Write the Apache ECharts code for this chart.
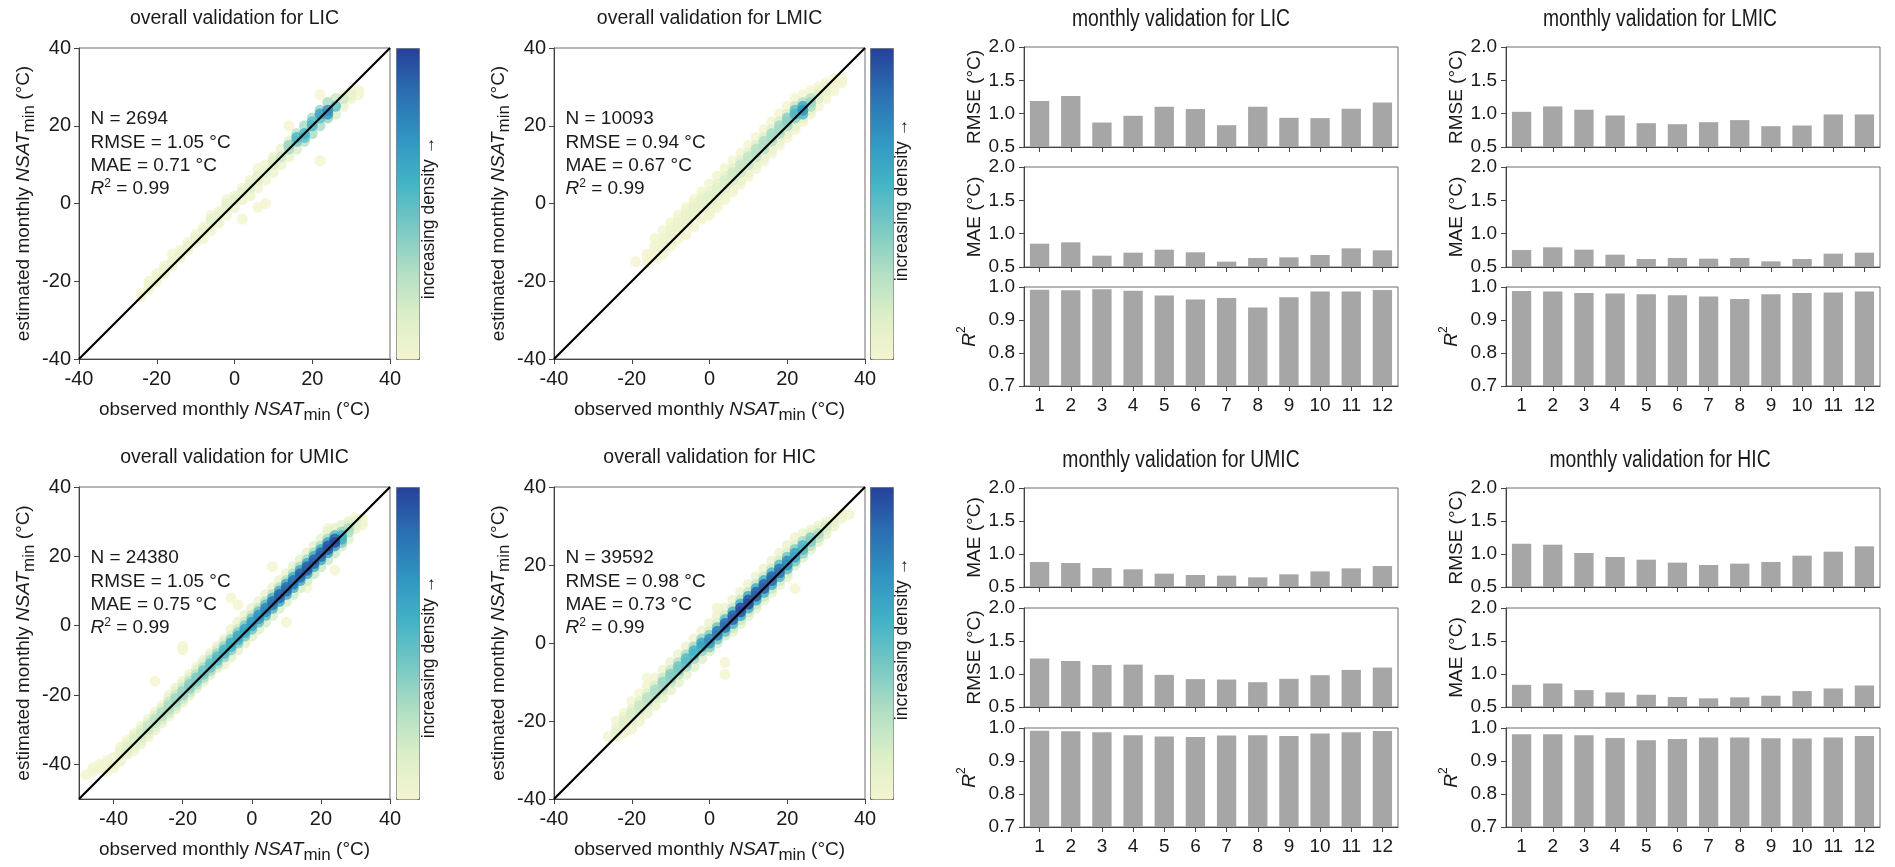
<!DOCTYPE html>
<html>
<head>
<meta charset="utf-8">
<script src="https://cdn.jsdelivr.net/npm/echarts@6/dist/echarts.min.js"></script>
<style>
  html, body { margin: 0; padding: 0; background: #fff; }
  #chart { width: 1895px; height: 867px; }
</style>
</head>
<body>
<div id="chart"></div>
<script>
// ---------- data ----------
const groups = ['LIC', 'LMIC', 'UMIC', 'HIC'];
const statN = [2694, 10093, 24380, 39592];
const statRMSE = ['1.05', '0.94', '1.05', '0.98'];
const statMAE = ['0.71', '0.67', '0.75', '0.73'];
const statR2 = ['0.99', '0.99', '0.99', '0.99'];
const axisRanges = [[-40, 40], [-40, 40], [-50, 40], [-40, 40]];
const tempTicks = [-40, -20, 0, 20, 40];

// point clouds: [observed, estimated, density, estimated, density, ...] per observed column
const licCloud = [
  [-24, -24, 0, -23, 0.02],
  [-22, -22, 0, -20, 0.02, -21, 0.05],
  [-20, -18, 0, -20, 0.03, -19, 0.05],
  [-18, -16, 0, -18, 0.03, -17, 0.06],
  [-16, -13, 0, -16, 0.02, -15, 0.06],
  [-14, -12, 0, -14, 0.03, -13, 0.07],
  [-12, -10, 0, -12, 0.03, -11, 0.08],
  [-10, -8, 0, -10, 0.02, -9, 0.08],
  [-8, -6, 0, -9, 0.02, -7, 0.08],
  [-6, -3, 0, -7, 0.02, -5, 0.06, -4, 0.1],
  [-4, -2, 0.02, -5, 0.03, -3, 0.1],
  [-2, 1, 0, -3, 0.02, -1, 0.1, 0, 0.08],
  [0, 2, 0.02, -1, 0.03, 1, 0.12],
  [2, 4, 0, -4, 0, 1, 0.05, 3, 0.12],
  [4, 6, 0, 2, 0.03, 4, 0.12, 5, 0.1],
  [6, 9, 0, 4, 0.02, 6, 0.1, 7, 0.12, -1, 0],
  [8, 10, 0.02, 6, 0.02, 8, 0.1, 0, 0],
  [10, 12, 0.03, 8, 0.03, 10, 0.15, 11, 0.12],
  [12, 14, 0.05, 10, 0.05, 12, 0.2],
  [14, 20, 0, 16, 0.1, 12, 0.05, 14, 0.3, 15, 0.35],
  [16, 18, 0.25, 14, 0.15, 16, 0.45, 17, 0.55],
  [18, 20, 0.3, 16, 0.25, 18, 0.58, 17, 0.5],
  [20, 22, 0.3, 18, 0.3, 20, 0.55, 21, 0.5],
  [22, 28, 0, 11, 0, 24, 0.35, 20, 0.3, 22, 0.5, 23, 0.65],
  [24, 26, 0.3, 22, 0.35, 24, 0.75, 23, 0.7],
  [26, 27, 0.2, 23, 0.15, 25, 0.5],
  [28, 28, 0.05, 25, 0.05, 27, 0.2],
  [30, 29, 0, 27, 0.02, 28, 0.08],
  [32, 29, 0, 28, 0]
];
const lmicCloud = [
  [-19, -15, 0],
  [-16, -15, 0, -13, 0, -14, 0],
  [-14, -9, 0, -14, 0, -12, 0.02, -11, 0.02],
  [-12, -7, 0, -13, 0, -10, 0.03, -9, 0.03, -11, 0.01],
  [-10, -5, 0, -11, 0, -8, 0.04, -7, 0.04, -9, 0.02, -6, 0.01],
  [-8, -3, 0, -9, 0, -6, 0.05, -5, 0.05, -7, 0.03, -4, 0.01],
  [-6, -1, 0, -8, 0, -4, 0.06, -3, 0.06, -5, 0.04, -2, 0.02],
  [-4, 1, 0, -6, 0, -2, 0.07, -1, 0.07, -3, 0.05, 0, 0.02],
  [-2, 3, 0, -4, 0, 0, 0.08, 1, 0.08, -1, 0.06, 2, 0.03, -3, 0.01],
  [0, 5, 0, -3, 0, 1, 0.1, 2, 0.1, 0, 0.08, 3, 0.04, -2, 0.02],
  [2, 7, 0, -1, 0, 3, 0.12, 4, 0.12, 2, 0.1, 5, 0.05, 0, 0.02],
  [4, 9, 0, 1, 0, 5, 0.15, 6, 0.15, 4, 0.12, 7, 0.06, 2, 0.03],
  [6, 11, 0, 3, 0, 7, 0.18, 8, 0.18, 6, 0.15, 9, 0.08, 4, 0.03],
  [8, 13, 0, 5, 0, 9, 0.2, 10, 0.2, 8, 0.18, 11, 0.1, 6, 0.04],
  [10, 15, 0, 7, 0, 11, 0.22, 12, 0.22, 10, 0.2, 13, 0.1, 8, 0.05],
  [12, 17, 0, 9, 0, 13, 0.25, 14, 0.25, 12, 0.22, 15, 0.12, 10, 0.05],
  [14, 19, 0, 11, 0, 15, 0.28, 16, 0.28, 14, 0.25, 17, 0.12, 12, 0.05],
  [16, 21, 0, 13, 0, 17, 0.3, 18, 0.3, 16, 0.25, 19, 0.12, 14, 0.05],
  [18, 23, 0, 15, 0, 19, 0.32, 20, 0.32, 18, 0.28, 21, 0.15, 16, 0.06],
  [20, 25, 0, 17, 0, 21, 0.38, 22, 0.38, 20, 0.3, 23, 0.15, 18, 0.06],
  [22, 27, 0, 19, 0, 23, 0.55, 24, 0.5, 22, 0.4, 25, 0.2, 20, 0.08],
  [24, 28, 0, 21, 0, 24, 0.72, 25, 0.62, 23, 0.55, 26, 0.25, 22, 0.1],
  [26, 29, 0, 23, 0, 26, 0.35, 27, 0.25, 25, 0.3, 24, 0.08],
  [28, 30, 0, 25, 0, 28, 0.12, 27, 0.12, 29, 0.05],
  [30, 31, 0, 27, 0, 29, 0.05, 30, 0.03],
  [32, 32, 0, 29, 0, 31, 0],
  [34, 32, 0, 31, 0]
];
const umicCloud = [
  [-48, -43, 0],
  [-46, -41, 0, -42, 0.02],
  [-44, -41, 0.02, -40, 0],
  [-42, -41, 0.03, -39, 0.02, -42, 0],
  [-40, -40, 0.05, -38, 0.03, -41, 0.02],
  [-38, -35, 0, -37, 0.08, -39, 0.05, -36, 0.05],
  [-36, -33, 0, -36, 0.1, -35, 0.12, -37, 0.04, -34, 0.06],
  [-34, -31, 0, -36, 0, -34, 0.12, -33, 0.15, -35, 0.06, -32, 0.08],
  [-32, -29, 0, -34, 0.03, -32, 0.15, -31, 0.18, -33, 0.08, -30, 0.1],
  [-30, -27, 0, -32, 0.03, -30, 0.2, -29, 0.22, -31, 0.1, -28, 0.12],
  [-28, -25, 0.02, -16, 0, -30, 0.05, -28, 0.22, -27, 0.25, -29, 0.12, -26, 0.12],
  [-26, -23, 0.02, -28, 0.05, -26, 0.25, -25, 0.28, -27, 0.15, -24, 0.15],
  [-24, -20, 0.02, -26, 0.05, -24, 0.28, -23, 0.3, -25, 0.18, -22, 0.2, -21, 0.08],
  [-22, -18, 0.03, -24, 0.08, -22, 0.3, -21, 0.33, -23, 0.2, -20, 0.2, -19, 0.1],
  [-20, -16, 0.03, -7, 0, -6, 0, -22, 0.08, -20, 0.35, -19, 0.35, -21, 0.2, -18, 0.22, -17, 0.1],
  [-18, -14, 0.03, -20, 0.1, -18, 0.38, -17, 0.4, -19, 0.22, -16, 0.25, -15, 0.12],
  [-16, -12, 0.03, -18, 0.1, -16, 0.4, -15, 0.42, -17, 0.25, -14, 0.25, -13, 0.12],
  [-14, -10, 0.05, -16, 0.1, -14, 0.45, -13, 0.45, -15, 0.28, -12, 0.28, -11, 0.12],
  [-12, -8, 0.05, -14, 0.12, -12, 0.48, -11, 0.5, -13, 0.3, -10, 0.3, -9, 0.15],
  [-10, -6, 0.05, -12, 0.12, -10, 0.5, -9, 0.52, -11, 0.32, -8, 0.32, -7, 0.15],
  [-8, -4, 0.05, -11, 0.05, -8, 0.55, -7, 0.55, -9, 0.35, -6, 0.35, -5, 0.15],
  [-6, -1, 0.03, 8, 0, -9, 0.08, -6, 0.58, -5, 0.6, -7, 0.38, -4, 0.38, -3, 0.15],
  [-4, 1, 0.03, 6, 0, -7, 0.08, -4, 0.6, -3, 0.62, -5, 0.4, -2, 0.4, -1, 0.18],
  [-2, 3, 0.05, -5, 0.1, -2, 0.62, -1, 0.65, -3, 0.42, 0, 0.42, 1, 0.2],
  [0, 5, 0.05, -3, 0.12, 0, 0.65, 1, 0.68, -1, 0.45, 2, 0.45, 3, 0.22],
  [2, 7, 0.05, -1, 0.12, 2, 0.7, 3, 0.72, 1, 0.48, 4, 0.48, 5, 0.22],
  [4, 9, 0.05, 1, 0.15, 4, 0.75, 5, 0.78, 3, 0.5, 6, 0.5, 7, 0.25],
  [6, 11, 0.05, 17, 0, 3, 0.15, 6, 0.82, 7, 0.85, 5, 0.55, 8, 0.55, 9, 0.25],
  [8, 13, 0.05, 5, 0.15, 8, 0.88, 9, 0.9, 7, 0.6, 10, 0.6, 11, 0.28],
  [10, 15, 0.05, 1, 0, 7, 0.15, 10, 0.88, 11, 0.88, 9, 0.6, 12, 0.6, 13, 0.28],
  [12, 17, 0.08, 9, 0.18, 12, 0.85, 13, 0.85, 11, 0.58, 14, 0.58, 15, 0.28],
  [14, 19, 0.08, 11, 0.15, 14, 0.88, 15, 0.9, 13, 0.6, 16, 0.6, 17, 0.3],
  [16, 21, 0.08, 11, 0, 13, 0.18, 16, 0.92, 17, 0.92, 15, 0.62, 18, 0.6, 19, 0.3],
  [18, 23, 0.08, 15, 0.2, 18, 0.9, 19, 0.9, 17, 0.6, 20, 0.6, 21, 0.3],
  [20, 25, 0.08, 17, 0.2, 20, 0.88, 21, 0.9, 19, 0.6, 22, 0.6, 23, 0.3],
  [22, 27, 0.08, 28, 0, 19, 0.2, 22, 0.92, 23, 0.95, 21, 0.62, 24, 0.62, 25, 0.3],
  [24, 28, 0.1, 16, 0, 21, 0.2, 24, 0.98, 25, 0.9, 23, 0.65, 26, 0.5],
  [26, 29, 0.08, 23, 0.15, 25, 0.6, 26, 0.55, 27, 0.35, 24, 0.4],
  [28, 30, 0.05, 25, 0.08, 28, 0.3, 27, 0.28, 29, 0.15],
  [30, 31, 0.03, 28, 0.05, 30, 0.12, 29, 0.1],
  [32, 31, 0, 30, 0.02, 29, 0]
];
const hicCloud = [
  [-26, -24, 0],
  [-24, -20, 0, -24, 0.02, -22, 0.06, -23, 0.08],
  [-22, -18, 0, -23, 0.03, -21, 0.1, -20, 0.12, -19, 0.05],
  [-20, -15, 0, -22, 0.03, -19, 0.14, -18, 0.16, -20, 0.08, -17, 0.08],
  [-18, -13, 0, -20, 0.05, -17, 0.18, -16, 0.2, -18, 0.1, -15, 0.1],
  [-16, -9, 0, -11, 0.03, -18, 0.05, -15, 0.22, -14, 0.25, -16, 0.12, -13, 0.12],
  [-14, -9, 0.03, -16, 0.06, -13, 0.28, -12, 0.3, -14, 0.15, -11, 0.15],
  [-12, -7, 0.03, -14, 0.08, -11, 0.32, -10, 0.35, -12, 0.2, -9, 0.2],
  [-10, -5, 0.04, -12, 0.08, -9, 0.38, -8, 0.4, -10, 0.22, -7, 0.22],
  [-8, -3, 0.04, -10, 0.1, -7, 0.42, -6, 0.45, -8, 0.25, -5, 0.25],
  [-6, -1, 0.05, -8, 0.1, -5, 0.5, -4, 0.52, -6, 0.3, -3, 0.3],
  [-4, 1, 0.05, -6, 0.12, -3, 0.55, -2, 0.58, -4, 0.32, -1, 0.32],
  [-2, 3, 0.05, -4, 0.12, -1, 0.62, 0, 0.65, -2, 0.35, 1, 0.35],
  [0, 5, 0.05, -2, 0.15, 0, 0.7, 1, 0.75, -1, 0.4, 2, 0.4, 3, 0.15],
  [2, 7, 0.05, 9, 0, 0, 0.15, 2, 0.78, 3, 0.82, 1, 0.45, 4, 0.45, 5, 0.15],
  [4, 9, 0.05, -5, 0, -8, 0, 2, 0.18, 4, 0.85, 5, 0.88, 3, 0.5, 6, 0.5, 7, 0.18],
  [6, 11, 0.05, 4, 0.2, 6, 0.9, 7, 0.92, 5, 0.55, 8, 0.55, 9, 0.2, 3, 0.08],
  [8, 13, 0.05, 6, 0.2, 8, 0.95, 9, 0.98, 7, 0.58, 10, 0.58, 11, 0.22, 5, 0.08],
  [10, 15, 0.05, 8, 0.2, 10, 0.98, 11, 0.95, 9, 0.6, 12, 0.6, 13, 0.22, 7, 0.08],
  [12, 17, 0.05, 10, 0.2, 12, 0.92, 13, 0.92, 11, 0.6, 14, 0.6, 15, 0.22, 9, 0.08],
  [14, 19, 0.05, 12, 0.2, 14, 0.9, 15, 0.92, 13, 0.58, 16, 0.58, 17, 0.2, 11, 0.08],
  [16, 21, 0.05, 13, 0.05, 14, 0.2, 16, 0.9, 17, 0.9, 15, 0.58, 18, 0.55, 19, 0.2],
  [18, 23, 0.05, 15, 0.05, 16, 0.18, 18, 0.85, 19, 0.85, 17, 0.55, 20, 0.52, 21, 0.18],
  [20, 25, 0.05, 17, 0.08, 18, 0.15, 20, 0.75, 21, 0.75, 19, 0.5, 22, 0.45, 23, 0.15],
  [22, 27, 0.05, 14, 0, 20, 0.15, 22, 0.65, 23, 0.65, 21, 0.42, 24, 0.4, 25, 0.12],
  [24, 28, 0.05, 22, 0.12, 24, 0.55, 25, 0.55, 23, 0.35, 26, 0.3],
  [26, 29, 0.03, 24, 0.1, 26, 0.42, 27, 0.4, 25, 0.25, 28, 0.12],
  [28, 30, 0.03, 26, 0.08, 28, 0.3, 27, 0.22, 29, 0.12],
  [30, 31, 0.02, 28, 0.05, 30, 0.18, 29, 0.12],
  [32, 32, 0, 30, 0.03, 31, 0.08],
  [34, 33, 0, 32, 0.02, 33, 0.03],
  [36, 33, 0]
];
const clouds = [licCloud, lmicCloud, umicCloud, hicCloud];

// monthly scores
const months = ['1', '2', '3', '4', '5', '6', '7', '8', '9', '10', '11', '12'];
const licRMSE = [1.19, 1.265, 0.867, 0.968, 1.104, 1.069, 0.827, 1.104, 0.938, 0.933, 1.074, 1.169];
const licMAE = [0.85, 0.87, 0.67, 0.715, 0.76, 0.72, 0.58, 0.635, 0.645, 0.68, 0.78, 0.75];
const licR2 = [0.992, 0.990, 0.993, 0.989, 0.974, 0.962, 0.967, 0.938, 0.969, 0.986, 0.986, 0.991];
const lmicRMSE = [1.028, 1.109, 1.059, 0.973, 0.857, 0.842, 0.872, 0.903, 0.812, 0.822, 0.988, 0.988];
const lmicMAE = [0.755, 0.795, 0.76, 0.685, 0.62, 0.635, 0.625, 0.635, 0.585, 0.62, 0.70, 0.715];
const lmicR2 = [0.988, 0.986, 0.982, 0.980, 0.978, 0.975, 0.971, 0.964, 0.978, 0.982, 0.983, 0.986];
const umicMAE = [0.879, 0.864, 0.788, 0.768, 0.702, 0.682, 0.672, 0.646, 0.692, 0.737, 0.783, 0.818];
const umicRMSE = [1.233, 1.197, 1.137, 1.142, 0.987, 0.922, 0.916, 0.876, 0.927, 0.982, 1.062, 1.097];
const umicR2 = [0.992, 0.990, 0.987, 0.978, 0.974, 0.973, 0.977, 0.978, 0.976, 0.983, 0.987, 0.991];
const hicRMSE = [1.157, 1.141, 1.015, 0.955, 0.914, 0.869, 0.833, 0.854, 0.879, 0.975, 1.035, 1.116];
const hicMAE = [0.836, 0.856, 0.756, 0.721, 0.686, 0.651, 0.631, 0.646, 0.671, 0.741, 0.781, 0.826];
const hicR2 = [0.981, 0.981, 0.978, 0.970, 0.963, 0.967, 0.971, 0.971, 0.969, 0.968, 0.971, 0.976];

// ---------- styling / layout ----------
const FONT = '"Liberation Sans", Arial, Helvetica, sans-serif';
const INK = '#1a1a1a';
const FRAME = '#6e6e6e';
const BAR = '#a6a6a6';
const densityColors = ['#f4f5d0', '#dcefc8', '#b0dec4', '#78c8c4', '#42b3c6', '#3094c1', '#2b6fb1', '#26419a'];

const scatterBoxes = [
  { left: 79, top: 48, w: 311, h: 311, cbLeft: 396, cbLabelX: 429, cbLabelY: 218 },
  { left: 554, top: 48, w: 311, h: 311, cbLeft: 870, cbLabelX: 902, cbLabelY: 200 },
  { left: 79, top: 487, w: 311, h: 312, cbLeft: 396, cbLabelX: 429, cbLabelY: 657 },
  { left: 554, top: 487, w: 311, h: 312, cbLeft: 870, cbLabelX: 902, cbLabelY: 639 }
];
const barQuads = [
  { left: 1024, tops: [47, 167, 287], hs: [100, 100, 99], titleX: 1181, titleY: 20,
    metrics: [['RMSE (°C)', licRMSE, 'err'], ['MAE (°C)', licMAE, 'err'], ['{i|R}{sup|2}', licR2, 'r2']] },
  { left: 1506, tops: [47, 167, 287], hs: [100, 100, 99], titleX: 1660, titleY: 20,
    metrics: [['RMSE (°C)', lmicRMSE, 'err'], ['MAE (°C)', lmicMAE, 'err'], ['{i|R}{sup|2}', lmicR2, 'r2']] },
  { left: 1024, tops: [488, 608, 728], hs: [99, 99, 99], titleX: 1181, titleY: 461,
    metrics: [['MAE (°C)', umicMAE, 'err'], ['RMSE (°C)', umicRMSE, 'err'], ['{i|R}{sup|2}', umicR2, 'r2']] },
  { left: 1506, tops: [488, 608, 728], hs: [99, 99, 99], titleX: 1660, titleY: 461,
    metrics: [['RMSE (°C)', hicRMSE, 'err'], ['MAE (°C)', hicMAE, 'err'], ['{i|R}{sup|2}', hicR2, 'r2']] }
];

function unpack(rows) {
  const pts = [];
  rows.forEach(r => { for (let i = 1; i < r.length; i += 2) pts.push([r[0], r[i], r[i + 1]]); });
  pts.sort((a, b) => a[2] - b[2]);   // densest points drawn last
  return pts;
}

const nameRich = {
  n: { fontSize: 19, fontFamily: FONT, color: INK, lineHeight: 28, verticalAlign: 'middle' },
  i: { fontSize: 19, fontFamily: FONT, color: INK, fontStyle: 'italic', lineHeight: 28, verticalAlign: 'middle' },
  s: { fontSize: 17, fontFamily: FONT, color: INK, lineHeight: 17, verticalAlign: 'bottom' },
  sup: { fontSize: 12, fontFamily: FONT, color: INK, lineHeight: 12, verticalAlign: 'top' }
};

const grids = [], xAxes = [], yAxes = [], series = [], visualMaps = [], graphics = [];

function axisCommon() {
  return {
    axisLine: { show: true, onZero: false, lineStyle: { color: '#444', width: 1 } },
    axisTick: { show: true, inside: false, length: 5, lineStyle: { color: '#444', width: 1 } },
    splitLine: { show: false },
    axisLabel: { fontSize: 20, fontFamily: FONT, color: INK, margin: 9 }
  };
}

// ---------- scatter panels ----------
scatterBoxes.forEach((b, k) => {
  const gi = grids.length;
  grids.push({ left: b.left, top: b.top, width: b.w, height: b.h, show: true,
               borderColor: FRAME, borderWidth: 1, backgroundColor: 'transparent' });
  const [lo, hi] = axisRanges[k];
  const xa = Object.assign(axisCommon(), {
    gridIndex: gi, type: 'value', min: lo, max: hi,
    name: '{n|observed monthly }{i|NSAT}{s|min}{n| (°C)}',
    nameLocation: 'middle', nameGap: 37, nameTextStyle: { rich: nameRich }
  });
  const ya = Object.assign(axisCommon(), {
    gridIndex: gi, type: 'value', min: lo, max: hi,
    name: '{n|estimated monthly }{i|NSAT}{s|min}{n| (°C)}',
    nameLocation: 'middle', nameRotate: 90, nameGap: 40, nameTextStyle: { rich: nameRich }
  });
  if (lo % 20 === 0) {
    xa.interval = 20; ya.interval = 20;
  } else {
    xa.axisLabel.customValues = tempTicks; xa.axisTick.customValues = tempTicks;
    ya.axisLabel.customValues = tempTicks; ya.axisTick.customValues = tempTicks;
  }
  xa.axisLabel.margin = 10;
  ya.axisLabel.margin = 8;
  xAxes.push(xa); yAxes.push(ya);

  const si = series.length;
  series.push({
    type: 'scatter', xAxisIndex: gi, yAxisIndex: gi, data: unpack(clouds[k]),
    symbol: 'circle', symbolSize: 11, itemStyle: { opacity: 0.82 }, silent: true, z: 2, clip: true
  });
  series.push({
    type: 'line', xAxisIndex: gi, yAxisIndex: gi, data: [[lo, lo], [hi, hi]],
    symbol: 'none', lineStyle: { color: '#000', width: 2.2 }, silent: true, z: 3, clip: true
  });
  visualMaps.push({
    type: 'continuous', seriesIndex: si, dimension: 2, min: 0, max: 1,
    inRange: { color: densityColors }, calculable: false, hoverLink: false,
    left: b.cbLeft, top: b.top, itemWidth: 23, itemHeight: b.h, padding: 0,
    borderColor: FRAME, borderWidth: 1, textStyle: { fontSize: 0 }
  });

  // panel title
  graphics.push({ type: 'text', x: b.left + b.w / 2, y: b.top - 29, silent: true,
    style: { text: 'overall validation for ' + groups[k], fontSize: 19.5, fontFamily: FONT,
             fill: INK, align: 'center', verticalAlign: 'middle' } });
  // statistics block
  const lines = [
    'N = ' + statN[k],
    'RMSE = ' + statRMSE[k] + ' °C',
    'MAE = ' + statMAE[k] + ' °C',
    '{i|R}{sup|2}{n| = ' + statR2[k] + '}'
  ];
  lines.forEach((t, j) => {
    graphics.push({ type: 'text', x: b.left + 11.5, y: b.top + 71 + j * 23.4, silent: true,
      style: { text: t, fontSize: 19, fontFamily: FONT, fill: INK, align: 'left', verticalAlign: 'middle',
        rich: {
          n: { fontSize: 19, fontFamily: FONT, fill: INK, lineHeight: 24, verticalAlign: 'middle' },
          i: { fontSize: 19, fontFamily: FONT, fill: INK, fontStyle: 'italic', lineHeight: 24, verticalAlign: 'middle' },
          sup: { fontSize: 12, fontFamily: FONT, fill: INK, lineHeight: 12, verticalAlign: 'top' }
        } } });
  });
  // colour bar caption
  graphics.push({ type: 'text', x: b.cbLabelX, y: b.cbLabelY, rotation: Math.PI / 2, silent: true,
    style: { text: 'increasing density →', fontSize: 17.5, fontFamily: FONT, fill: INK,
             align: 'center', verticalAlign: 'middle' } });
});

// ---------- monthly bar panels ----------
barQuads.forEach((q, k) => {
  q.metrics.forEach((m, r) => {
    const gi = grids.length;
    const last = r === q.metrics.length - 1;
    grids.push({ left: q.left, top: q.tops[r], width: 374, height: q.hs[r], show: true,
                 borderColor: FRAME, borderWidth: 1, backgroundColor: 'transparent' });
    const xa = Object.assign(axisCommon(), {
      gridIndex: gi, type: 'category', data: months, boundaryGap: true
    });
    xa.axisTick.alignWithLabel = true;
    xa.axisLabel.fontSize = 19;
    xa.axisLabel.margin = 10;
    xa.axisLabel.show = last;
    const isR2 = m[2] === 'r2';
    const ya = Object.assign(axisCommon(), {
      gridIndex: gi, type: 'value',
      min: isR2 ? 0.7 : 0.5, max: isR2 ? 1.0 : 2.0, interval: isR2 ? 0.1 : 0.5,
      name: m[0], nameLocation: 'middle', nameRotate: 90, nameGap: 40,
      nameTextStyle: { fontSize: 19, fontFamily: FONT, color: INK, rich: nameRich }
    });
    ya.axisLabel.fontSize = 19;
    ya.axisLabel.margin = 9;
    ya.axisLabel.formatter = v => v.toFixed(1);
    xAxes.push(xa); yAxes.push(ya);
    series.push({
      type: 'bar', xAxisIndex: gi, yAxisIndex: gi, data: m[1], barWidth: '62%',
      itemStyle: { color: BAR }, silent: true, clip: true, z: 2
    });
  });
  // condensed heading above each block of monthly panels
  graphics.push({ type: 'text', x: q.titleX, y: q.titleY, scaleX: 0.84, silent: true,
    style: { text: 'monthly validation for ' + groups[k], fontSize: 23, fontFamily: FONT,
             fill: INK, align: 'center', verticalAlign: 'middle' } });
});

const chart = echarts.init(document.getElementById('chart'), null, { renderer: 'canvas' });
chart.setOption({
  animation: false,
  backgroundColor: '#ffffff',
  textStyle: { fontFamily: FONT },
  grid: grids,
  xAxis: xAxes,
  yAxis: yAxes,
  visualMap: visualMaps,
  series: series,
  graphic: { elements: graphics }
});
</script>
</body>
</html>
